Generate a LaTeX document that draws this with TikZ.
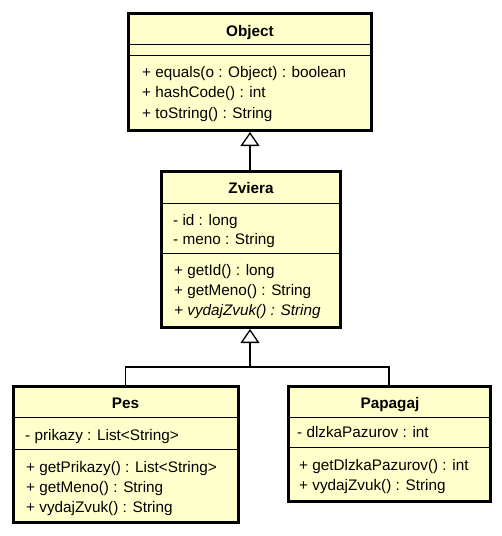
\documentclass[tikz,border=0pt]{standalone}
\usepackage{fontspec}
\setmainfont{Liberation Sans}
\usetikzlibrary{arrows.meta}
\definecolor{umlfill}{HTML}{FFFFCC}
\begin{document}
\begin{tikzpicture}[x=1pt,y=-1pt,
  classbox/.style={draw=black, line width=3pt, fill=umlfill, rectangle, inner sep=0pt},
  member/.style={anchor=base west, inner sep=0pt, font=\fontsize{15.3}{18}\selectfont},
  ctitle/.style={anchor=base, inner sep=0pt, font=\fontsize{15.3}{18}\selectfont\bfseries},
  sepline/.style={draw=black, line width=1pt},
  conn/.style={draw=black, line width=1.3pt},
  gen/.style={-{Triangle[open, length=14pt, width=19pt, line width=1.3pt]}}
]
\useasboundingbox (0,0) rectangle (502,536);

% Object
\node[classbox, minimum width=243pt, minimum height=117pt] (obj) at (250,72) {};
\node[ctitle] (objt) at (250,36) {Object};
\draw[sepline] (obj.west |- 0,44) -- (obj.east |- 0,44);
\draw[sepline] (obj.west |- 0,55) -- (obj.east |- 0,55);
\node[member] (o1) at (142,77) {+ equals(o : Object) : boolean};
\node[member] (o2) at (142,97) {+ hashCode() : int};
\node[member] (o3) at (142,118) {+ toString() : String};

% Zviera
\node[classbox, minimum width=179pt, minimum height=156pt] (zv) at (251,249.5) {};
\node[ctitle] (zvt) at (251,193) {Zviera};
\draw[sepline] (zv.west |- 0,203) -- (zv.east |- 0,203);
\draw[sepline] (zv.west |- 0,253) -- (zv.east |- 0,253);
\node[member] (z1) at (173,225) {- id : long};
\node[member] (z2) at (173,244) {- meno : String};
\node[member] (z3) at (174,275) {+ getId() : long};
\node[member] (z4) at (174,295) {+ getMeno() : String};
\node[member, font=\fontsize{15.3}{18}\selectfont\itshape] (z5) at (174,315) {+ vydajZvuk() : String};

% Pes
\node[classbox, minimum width=225pt, minimum height=136pt] (pes) at (125.5,454.5) {};
\node[ctitle] (pest) at (125.5,408) {Pes};
\draw[sepline] (pes.west |- 0,417) -- (pes.east |- 0,417);
\draw[sepline] (pes.west |- 0,449) -- (pes.east |- 0,449);
\node[member] (p1) at (25,440) {- prikazy : List<String>};
\node[member] (p2) at (26,472) {+ getPrikazy() : List<String>};
\node[member] (p3) at (26,492) {+ getMeno() : String};
\node[member] (p4) at (26,512) {+ vydajZvuk() : String};

% Papagaj
\node[classbox, minimum width=202pt, minimum height=115pt] (pap) at (389,444) {};
\node[ctitle] (papt) at (390,408) {Papagaj};
\draw[sepline] (pap.west |- 0,417) -- (pap.east |- 0,417);
\draw[sepline] (pap.west |- 0,447) -- (pap.east |- 0,447);
\node[member] (a1) at (297,437) {- dlzkaPazurov : int};
\node[member] (a2) at (299,470) {+ getDlzkaPazurov() : int};
\node[member] (a3) at (299,490) {+ vydajZvuk() : String};

% generalizations
\coordinate (j) at (250,367);
\draw[conn, gen] (zv.north -| obj.south) -- (obj.south);
\draw[conn] (pes.north) |- (j);
\draw[conn] (pap.north) |- (j);
\draw[conn, gen] (j) -- (j |- zv.south);
\end{tikzpicture}
\end{document}
